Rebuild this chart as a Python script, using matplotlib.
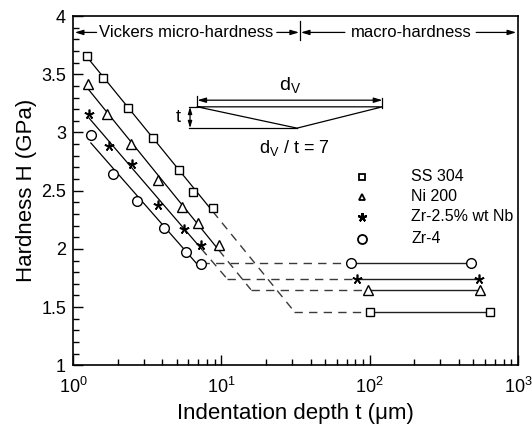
import numpy as np
import matplotlib
matplotlib.use("Agg")
import matplotlib.pyplot as plt

plt.rcParams['font.family'] = ['Liberation Sans', 'DejaVu Sans']
plt.rcParams['mathtext.fontset'] = 'custom'
plt.rcParams['mathtext.rm'] = 'Liberation Sans'
plt.rcParams['mathtext.it'] = 'Liberation Sans:italic'
plt.rcParams['mathtext.bf'] = 'Liberation Sans:bold'

# ---- data ----
materials = ["SS 304", "Ni 200", "Zr-2.5% wt Nb", "Zr-4"]

# Vickers micro-hardness (indentation depth in um, hardness in GPa)
t_ss304 = [1.24, 1.60, 2.36, 3.48, 5.19, 6.48, 8.75]
h_ss304 = [3.66, 3.47, 3.21, 2.95, 2.68, 2.49, 2.35]
t_ni200 = [1.27, 1.69, 2.46, 3.76, 5.41, 6.93, 9.60]
h_ni200 = [3.42, 3.16, 2.90, 2.59, 2.36, 2.22, 2.03]
t_zrnb = [1.28, 1.75, 2.49, 3.76, 5.61, 7.33]
h_zrnb = [3.16, 2.88, 2.73, 2.38, 2.17, 2.03]
t_zr4 = [1.32, 1.87, 2.71, 4.13, 5.78, 7.33]
h_zr4 = [2.98, 2.64, 2.41, 2.18, 1.97, 1.87]

# macro-hardness
tm_ss304 = [100, 648]
tm_ni200 = [97, 555]
tm_zrnb = [82, 549]
tm_zr4 = [75, 483]
hm_ss304 = 1.46
hm_ni200 = 1.65
hm_zrnb = 1.74
hm_zr4 = 1.88

micro_t = [t_ss304, t_ni200, t_zrnb, t_zr4]
micro_h = [h_ss304, h_ni200, h_zrnb, h_zr4]
macro_t = [tm_ss304, tm_ni200, tm_zrnb, tm_zr4]
macro_h = [hm_ss304, hm_ni200, hm_zrnb, hm_zr4]

markers = ['s', '^', (5, 2, 0), 'o']
msizes = [5.5, 6.5, 7.0, 7.0]
mews = [1.0, 1.0, 1.2, 1.0]

fig = plt.figure(figsize=(5.32, 4.34), dpi=100)
ax = fig.add_axes([0.1372, 0.1583, 0.8365, 0.8048])
ax.set_xscale('log')
ax.set_xlim(1, 1000)
ax.set_ylim(1, 4)

dash = (0, (6, 4.5))
dash_col = '#3a3a3a'

for tt, hh, tm, hm, mk, ms, mw in zip(micro_t, micro_h, macro_t, macro_h,
                                      markers, msizes, mews):
    lx = np.log10(tt)
    b, a = np.polyfit(lx, hh, 1)
    # solid fit across the micro-hardness data
    xs = np.array([lx[0], lx[-1]])
    ax.plot(10 ** xs, a + b * xs, color='black', lw=0.9, zorder=2)
    # dashed extrapolation down to the macro-hardness plateau
    x_int = max((hm - a) / b, lx[-1])
    ax.plot(10 ** np.array([lx[-1], x_int]), [a + b * lx[-1], hm],
            color=dash_col, lw=1.0, ls=dash, zorder=1)
    ax.plot([10 ** x_int, tm[0]], [hm, hm], color=dash_col, lw=1.0,
            ls=dash, zorder=1)
    # macro-hardness segment
    ax.plot(tm, [hm, hm], color='#202020', lw=1.0, zorder=2)
    ax.plot(tt, hh, ls='none', marker=mk, ms=ms, mfc='white', mec='black',
            mew=mw, zorder=3)
    ax.plot(tm, [hm, hm], ls='none', marker=mk, ms=ms, mfc='white',
            mec='black', mew=mw, zorder=3)

# ---- axes styling ----
ax.set_yticks([1, 1.5, 2, 2.5, 3, 3.5, 4])
ax.set_yticklabels(['1', '1.5', '2', '2.5', '3', '3.5', '4'])
ax.set_yticks(np.arange(1, 4.001, 0.1), minor=True)
ax.tick_params(which='both', direction='in', top=False, right=False,
               labelsize=13, width=1.0)
ax.tick_params(axis='y', which='both', pad=5)
ax.tick_params(axis='x', which='both', pad=8)
ax.tick_params(which='major', length=7)
ax.tick_params(which='minor', length=4.5)
for s in ax.spines.values():
    s.set_linewidth(1.2)
ax.set_xlabel('Indentation depth t (\u03bcm)', fontsize=16, labelpad=5)
ax.set_ylabel('Hardness H (GPa)', fontsize=16, labelpad=3)

tr = ax.transAxes
arr = dict(arrowstyle='-|>,head_length=0.5,head_width=0.15', color='black',
           lw=0.9, shrinkA=0, shrinkB=0)

# region labels along the top
y_top = 0.953
x_div = 0.510
ax.plot([x_div, x_div], [0.931, 0.987], color='black', lw=0.9,
        transform=tr, clip_on=False)
ax.text(0.2535, y_top, 'Vickers micro-hardness', transform=tr, fontsize=12,
        ha='center', va='center')
ax.annotate('', xy=(0.004, y_top), xytext=(0.053, y_top), xycoords=tr,
            textcoords=tr, arrowprops=arr)
ax.annotate('', xy=(x_div - 0.002, y_top), xytext=(0.458, y_top),
            xycoords=tr, textcoords=tr, arrowprops=arr)
ax.text(0.7596, y_top, 'macro-hardness', transform=tr, fontsize=12,
        ha='center', va='center')
ax.annotate('', xy=(x_div + 0.002, y_top), xytext=(0.611, y_top),
            xycoords=tr, textcoords=tr, arrowprops=arr)
ax.annotate('', xy=(0.996, y_top), xytext=(0.906, y_top), xycoords=tr,
            textcoords=tr, arrowprops=arr)

# Vickers indent sketch
xl, xr, xa, xt = 0.2795, 0.6953, 0.5034, 0.263
yarr, ytop, ybot = 0.759, 0.740, 0.679
ax.annotate('', xy=(xl, yarr), xytext=(xr, yarr), xycoords=tr,
            textcoords=tr, arrowprops=dict(arrowstyle='<|-|>,head_length=0.5,head_width=0.15',
                                           color='black', lw=0.9,
                                           shrinkA=0, shrinkB=0))
ax.plot([xl, xl], [0.745, 0.772], color='black', lw=0.9, transform=tr)
ax.plot([xr, xr], [0.736, 0.765], color='black', lw=0.9, transform=tr)
ax.plot([xl, xa, xr, xl], [ytop, ybot, ytop, ytop], color='black', lw=0.9,
        transform=tr)
ax.plot([xt - 0.003, xa], [ybot, ybot], color='black', lw=0.9, transform=tr)
ax.plot([xt - 0.003, xl], [ytop, ytop], color='black', lw=0.9, transform=tr)
ax.annotate('', xy=(xt, ytop), xytext=(xt, ybot), xycoords=tr,
            textcoords=tr, arrowprops=dict(arrowstyle='<|-|>,head_length=0.4,head_width=0.12',
                                           color='black', lw=0.9,
                                           shrinkA=0, shrinkB=0))
ax.text(0.488, 0.803, '$\\mathregular{d_V}$', transform=tr, fontsize=14,
        ha='center', va='center')
ax.text(0.236, 0.709, 't', transform=tr, fontsize=13, ha='center',
        va='center')
ax.text(0.498, 0.621, '$\\mathregular{d_V}$ / t = 7', transform=tr,
        fontsize=13, ha='center', va='center')

# legend
leg_y = [0.540, 0.483, 0.425, 0.362]
leg_ms = [4.5, 5.0, 6.5, 6.5]
for name, mk, ms, mw, yy in zip(materials, markers, leg_ms, mews, leg_y):
    ax.plot([0.650], [yy], transform=tr, ls='none', marker=mk, ms=ms,
            mfc='white', mec='black', mew=mw + 0.3, clip_on=False)
    ax.text(0.760, yy, name, transform=tr, fontsize=11.5, ha='left',
            va='center')

fig.savefig('out.png', dpi=100)
